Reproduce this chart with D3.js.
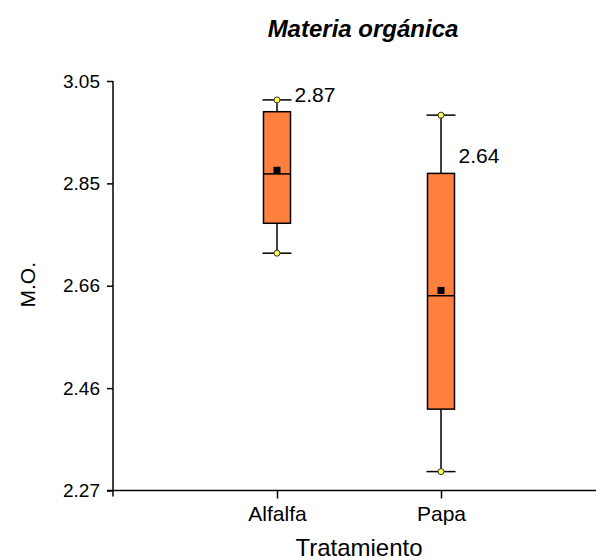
<!DOCTYPE html>
<html>
<head>
<meta charset="utf-8">
<script src="https://cdn.jsdelivr.net/npm/d3@7"></script>
<style>
  html, body { margin: 0; padding: 0; background: #fff; }
  svg { display: block; font-family: Arial, "Liberation Sans", sans-serif; }
</style>
</head>
<body>
<svg id="chart" width="596" height="560"></svg>
<script>
const categories = ["Alfalfa", "Papa"];
const whiskerLow  = [2.722, 2.306];
const boxLow      = [2.779, 2.425];
const medians     = [2.873, 2.641];
const means       = [2.880, 2.651];
const boxHigh     = [2.9915, 2.874];
const whiskerHigh = [3.014, 2.985];
const medianLabels = ["2.87", "2.64"];
const yTickValues = [2.27, 2.465, 2.66, 2.855, 3.05];
const yTickLabels = ["2.27", "2.46", "2.66", "2.85", "3.05"];

(function () {
const svg = d3.select("#chart");
const mLeft = 113, mRight = 605, mTop = 81, mBottom = 490.5;

const y = d3.scaleLinear().domain([2.27, 3.05]).range([mBottom, mTop]);
const x = d3.scalePoint().domain(categories).range([mLeft, mRight]).padding(1);

const boxW = 27, capW = 29;

// title
svg.append("text").attr("x", 363).attr("y", 37)
  .attr("text-anchor", "middle").attr("font-size", 24)
  .attr("font-weight", "bold").attr("font-style", "italic")
  .text("Materia orgánica");

// Y axis
const yAxis = d3.axisLeft(y).tickValues(yTickValues)
  .tickFormat((d, i) => yTickLabels[i]).tickSize(6).tickSizeOuter(0);
const gy = svg.append("g").attr("transform", `translate(${mLeft},0)`).call(yAxis);
gy.select(".domain").attr("stroke", "#000").attr("stroke-width", 1.5)
  .attr("d", `M0,${mBottom + 6}V${mTop}`);
gy.selectAll(".tick line").attr("stroke", "#000").attr("stroke-width", 1.5);
gy.selectAll(".tick text").attr("font-size", 19).attr("fill", "#000")
  .attr("font-family", "Arial, 'Liberation Sans', sans-serif").attr("x", -13);

// X axis
const xAxis = d3.axisBottom(x).tickSize(8).tickSizeOuter(0);
const gx = svg.append("g").attr("transform", `translate(0,${mBottom})`).call(xAxis);
gx.select(".domain").attr("stroke", "#000").attr("stroke-width", 1.5)
  .attr("d", `M${mLeft - 6},0H596`);
gx.selectAll(".tick line").attr("stroke", "#000").attr("stroke-width", 1.5);
gx.selectAll(".tick text").attr("font-size", 21).attr("fill", "#000")
  .attr("font-family", "Arial, 'Liberation Sans', sans-serif").attr("y", 12).attr("dy", "0.9em");

// axis titles
svg.append("text").attr("x", 359).attr("y", 556)
  .attr("text-anchor", "middle").attr("font-size", 24).text("Tratamiento");
svg.append("text").attr("transform", `translate(35,${(mTop + mBottom) / 2 - 1}) rotate(-90)`)
  .attr("text-anchor", "middle").attr("font-size", 21).text("M.O.");

// boxes
const data = categories.map((c, i) => ({
  c, wl: whiskerLow[i], bl: boxLow[i], med: medians[i], mean: means[i],
  bh: boxHigh[i], wh: whiskerHigh[i], lab: medianLabels[i]
}));

const g = svg.append("g");
data.forEach(d => {
  const cx = x(d.c);
  g.append("line").attr("x1", cx).attr("x2", cx).attr("y1", y(d.wh)).attr("y2", y(d.bh))
    .attr("stroke", "#000").attr("stroke-width", 1.5);
  g.append("line").attr("x1", cx).attr("x2", cx).attr("y1", y(d.bl)).attr("y2", y(d.wl))
    .attr("stroke", "#000").attr("stroke-width", 1.5);
  [d.wh, d.wl].forEach(v => {
    g.append("line").attr("x1", cx - capW / 2).attr("x2", cx + capW / 2)
      .attr("y1", y(v)).attr("y2", y(v)).attr("stroke", "#000").attr("stroke-width", 1.5);
  });
  g.append("rect").attr("x", cx - boxW / 2).attr("y", y(d.bh))
    .attr("width", boxW).attr("height", y(d.bl) - y(d.bh))
    .attr("fill", "#ff7f3f").attr("stroke", "#000").attr("stroke-width", 1.5);
  g.append("line").attr("x1", cx - boxW / 2).attr("x2", cx + boxW / 2)
    .attr("y1", y(d.med)).attr("y2", y(d.med)).attr("stroke", "#000").attr("stroke-width", 1.5);
  g.append("rect").attr("x", cx - 3.5).attr("y", y(d.mean) - 3.5)
    .attr("width", 7).attr("height", 7).attr("fill", "#000");
  [d.wh, d.wl].forEach(v => {
    g.append("circle").attr("cx", cx).attr("cy", y(v)).attr("r", 3)
      .attr("fill", "#ffff4d").attr("stroke", "#333").attr("stroke-width", 1);
  });
  g.append("text").attr("x", cx + boxW / 2 + 4).attr("y", y(d.bh) - 10)
    .attr("font-size", 21).attr("fill", "#000").text(d.lab);
});
})();
</script>
</body>
</html>
